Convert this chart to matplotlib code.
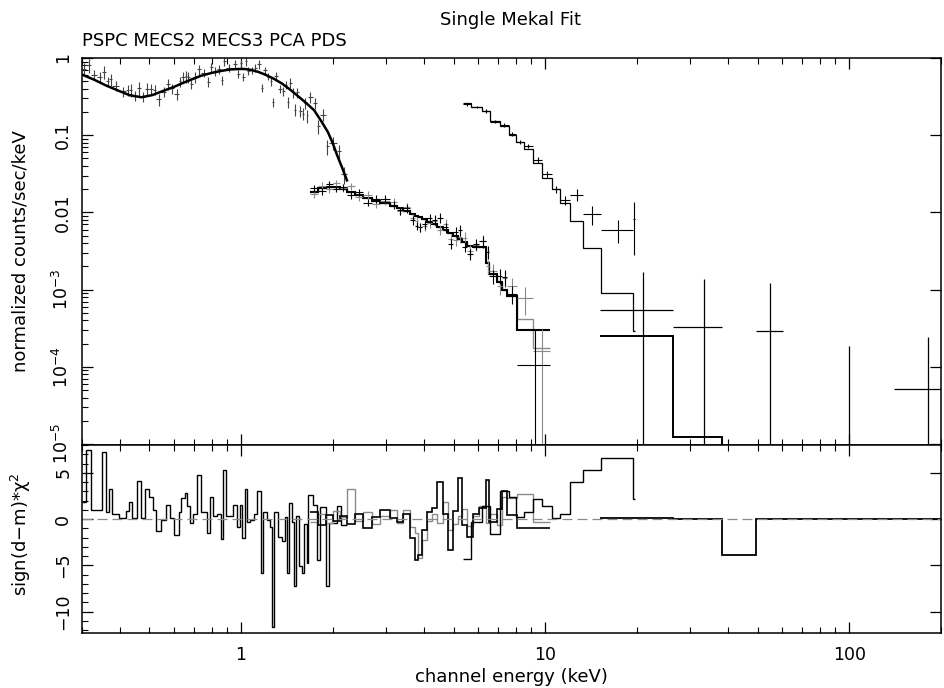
import matplotlib
matplotlib.use('Agg')
import matplotlib.pyplot as plt
from matplotlib.ticker import (FixedLocator, FixedFormatter, LogLocator,
                               MultipleLocator, NullFormatter)
import numpy as np

plt.rcParams['font.family'] = ['DejaVu Sans']
plt.rcParams['mathtext.default'] = 'regular'

# ---------------- PSPC (0.3 - 2.2 keV) ----------------
pspc_edges = [0.300, 0.310, 0.322, 0.337, 0.350, 0.360, 0.369, 0.377, 0.398, 0.420,
              0.429, 0.439, 0.456, 0.470, 0.485, 0.500, 0.515, 0.527, 0.547, 0.568,
              0.586, 0.604, 0.623, 0.637, 0.652, 0.662, 0.677, 0.693, 0.714, 0.736,
              0.770, 0.788, 0.806, 0.831, 0.857, 0.870, 0.890, 0.938, 0.967, 0.990,
              1.005, 1.028, 1.043, 1.068, 1.101, 1.126, 1.160, 1.178, 1.214, 1.243,
              1.261, 1.281, 1.320, 1.361, 1.392, 1.414, 1.435, 1.468, 1.491, 1.514,
              1.549, 1.584, 1.608, 1.645, 1.658, 1.722, 1.776, 1.816, 1.901, 1.945,
              2.067, 2.130, 2.229]
pspc_flux = [0.72, 0.80, 0.61, 0.575, 0.66, 0.50, 0.53, 0.44, 0.37, 0.385,
             0.39, 0.325, 0.405, 0.315, 0.40, 0.40, 0.385, 0.29, 0.365, 0.455,
             0.405, 0.34, 0.50, 0.56, 0.58, 0.565, 0.46, 0.565, 0.71, 0.645,
             0.49, 0.76, 0.67, 0.72, 0.52, 0.92, 0.74, 0.84, 0.62, 0.85,
             0.57, 0.91, 0.68, 0.69, 0.75, 0.83, 0.41, 0.69, 0.575, 0.50,
             0.27, 0.58, 0.40, 0.37, 0.45, 0.27, 0.48, 0.36, 0.215, 0.36,
             0.205, 0.19, 0.26, 0.18, 0.31, 0.26, 0.13, 0.185, 0.072, 0.08,
             0.062, 0.031]
pspc_relerr = [0.18, 0.20, 0.15, 0.16, 0.20, 0.15, 0.18, 0.14, 0.15, 0.17,
               0.19, 0.15, 0.20, 0.15, 0.18, 0.16, 0.15, 0.17, 0.14, 0.16,
               0.15, 0.17, 0.15, 0.16, 0.18, 0.15, 0.14, 0.15, 0.16, 0.13,
               0.15, 0.14, 0.13, 0.14, 0.13, 0.15, 0.12, 0.13, 0.12, 0.14,
               0.12, 0.13, 0.12, 0.11, 0.12, 0.13, 0.12, 0.12, 0.11, 0.12,
               0.14, 0.12, 0.13, 0.14, 0.13, 0.16, 0.14, 0.15, 0.17, 0.15,
               0.17, 0.18, 0.16, 0.19, 0.16, 0.17, 0.20, 0.18, 0.22, 0.20,
               0.22, 0.25]
pspc_resid = [1.9, 7.5, 1.0, 1.0, 7.2, 0.8, 3.2, 0.5, 0.1, 0.9,
              1.9, 0.1, 4.1, 0.1, 3.3, 2.4, 1.0, -1.3, -0.1, 1.5,
              0.1, -1.7, 0.8, 2.3, 2.8, 1.4, -0.4, 0.5, 4.8, 0.8,
              -1.5, 2.4, 0.3, 0.5, -2.2, 5.3, 0.3, 1.5, -0.8, 1.5,
              -2.0, 3.3, -0.3, -0.1, 0.5, 3.0, -5.8, 0.8, -0.1, -0.8,
              -11.7, 0.8, -1.9, -2.4, 0.2, -5.8, 1.7, -0.3, -7.2, 0.3,
              -5.1, -5.8, -0.5, -4.7, 2.6, 1.5, -4.4, 1.3, -7.2, -0.4,
              1.4, -0.6]
pspc_model_e = [0.30, 0.33, 0.36, 0.40, 0.43, 0.47, 0.51, 0.55, 0.60, 0.64,
                0.69, 0.74, 0.80, 0.86, 0.92, 0.98, 1.03, 1.08, 1.14, 1.20,
                1.28, 1.36, 1.45, 1.54, 1.64, 1.74, 1.84, 1.93, 2.00, 2.07,
                2.15, 2.23]
pspc_model_f = [0.61, 0.52, 0.44, 0.37, 0.33, 0.31, 0.33, 0.37, 0.42, 0.47,
                0.53, 0.59, 0.64, 0.68, 0.71, 0.72, 0.72, 0.70, 0.66, 0.61,
                0.54, 0.47, 0.39, 0.32, 0.26, 0.21, 0.15, 0.11, 0.08, 0.055,
                0.038, 0.026]

# ---------------- MECS2 / MECS3 (1.7 - 10 keV) ----------------
mecs3_edges = [1.684, 1.789, 1.901, 2.004, 2.114, 2.229, 2.369, 2.518, 2.696, 2.864,
               3.090, 3.260, 3.411, 3.597, 3.736, 3.823, 3.940, 4.093, 4.252, 4.416,
               4.621, 4.800, 4.985, 5.178, 5.338, 5.545, 5.803, 6.072, 6.404, 6.552,
               6.963, 7.232, 7.512, 8.100, 10.40]
mecs2_edges = [1.684, 1.789, 1.901, 2.004, 2.114, 2.229, 2.369, 2.518, 2.696, 2.864,
               3.090, 3.260, 3.411, 3.597, 3.736, 3.823, 3.940, 4.093, 4.252, 4.416,
               4.621, 4.800, 4.985, 5.178, 5.338, 5.545, 5.803, 6.072, 6.404, 6.552,
               6.963, 7.232, 7.512, 8.100, 9.100, 10.40]
mecs3_model = [0.0185, 0.0205, 0.0214, 0.0213, 0.0198, 0.0181, 0.0166, 0.0152, 0.0142, 0.0133,
               0.0122, 0.0113, 0.0104, 0.0095, 0.0090, 0.0086, 0.0082, 0.0076, 0.0071, 0.0065,
               0.0059, 0.0054, 0.0049, 0.0045, 0.0041, 0.0037, 0.0036, 0.0036, 0.0022, 0.0016,
               0.00125, 0.00100, 0.00082, 0.00030]
mecs2_model = [0.0185, 0.0205, 0.0214, 0.0213, 0.0198, 0.0181, 0.0166, 0.0152, 0.0142, 0.0133,
               0.0122, 0.0113, 0.0104, 0.0095, 0.0090, 0.0086, 0.0082, 0.0076, 0.0071, 0.0065,
               0.0059, 0.0054, 0.0049, 0.0045, 0.0041, 0.0037, 0.0036, 0.0036, 0.0022, 0.0016,
               0.00125, 0.00100, 0.00082, 0.00042, 0.000175]
mecs3_flux = [0.0205, 0.0187, 0.0230, 0.0202, 0.0211, 0.0166, 0.0181, 0.0134, 0.0150, 0.0149,
              0.0126, 0.0106, 0.0113, 0.0079, 0.0067, 0.0065, 0.0071, 0.0084, 0.0080, 0.0085,
              0.0064, 0.0039, 0.0056, 0.0059, 0.0036, 0.0029, 0.0039, 0.0042, 0.0031, 0.00148,
              0.0015, 0.00145, 0.00088, 0.000105]
mecs2_flux = [0.0174, 0.0222, 0.0198, 0.0237, 0.0208, 0.0219, 0.0158, 0.0168, 0.0130, 0.0141,
              0.0137, 0.0104, 0.0117, 0.0085, 0.0077, 0.0064, 0.0067, 0.0072, 0.0078, 0.0060,
              0.0071, 0.0045, 0.0044, 0.0048, 0.0047, 0.0032, 0.0038, 0.0043, 0.0020, 0.00175,
              0.00112, 0.00140, 0.00110, 0.00078, 0.00016]
mecs3_relerr = [0.10, 0.10, 0.10, 0.10, 0.10, 0.10, 0.11, 0.11, 0.11, 0.12,
                0.12, 0.12, 0.12, 0.13, 0.13, 0.13, 0.13, 0.14, 0.14, 0.14,
                0.15, 0.15, 0.15, 0.16, 0.16, 0.17, 0.17, 0.17, 0.19, 0.20,
                0.22, 0.24, 0.26, 1.9]
mecs2_relerr = [0.11, 0.10, 0.11, 0.10, 0.11, 0.10, 0.12, 0.11, 0.12, 0.12,
                0.13, 0.12, 0.13, 0.13, 0.14, 0.13, 0.14, 0.14, 0.15, 0.15,
                0.15, 0.16, 0.16, 0.16, 0.17, 0.18, 0.17, 0.18, 0.20, 0.21,
                0.23, 0.25, 0.27, 0.40, 0.95]
mecs3_resid = [0.8, -0.6, 0.4, -0.2, 0.3, -0.5, 0.6, -1.0, 0.2, 1.0,
               0.1, -0.3, 0.5, -2.0, -4.4, -3.9, -1.2, 0.8, 1.2, 4.0,
               0.6, -3.3, 0.9, 4.4, -0.6, -1.9, 0.5, 1.2, 4.2, -0.3,
               1.1, 3.0, 0.4, -1.0]
mecs2_resid = [-0.3, 0.5, -0.4, 0.9, 0.2, 3.2, -0.2, 0.8, -0.5, 0.3,
               1.0, -0.4, 1.0, -0.8, -1.5, -4.2, -2.3, -0.2, 0.6, -0.4,
               1.8, -1.2, -0.5, 0.3, 1.1, -0.7, 0.3, 1.4, -0.4, 0.5,
               -0.6, 2.4, 2.3, 2.7, -0.3]

# ---------------- PCA (5.4 - 20 keV) ----------------
pca_edges = [5.35, 5.70, 6.20, 6.60, 7.10, 7.60, 8.00, 8.50, 9.10, 9.80,
             10.5, 11.2, 12.1, 13.3, 15.3, 19.4, 19.8]
pca_model = [0.258, 0.233, 0.203, 0.153, 0.132, 0.100, 0.081, 0.067, 0.044, 0.028,
             0.020, 0.0134, 0.0078, 0.0035, 0.0009, 0.00029]
pca_flux = [0.250, 0.232, 0.206, 0.150, 0.136, 0.105, 0.082, 0.072, 0.048, 0.031,
            0.020, 0.0145, 0.017, 0.0095, 0.006, 0.0083]
pca_err = [0.012, 0.010, 0.010, 0.008, 0.007, 0.006, 0.005, 0.004, 0.004, 0.003,
           0.002, 0.002, 0.003, 0.0027, 0.002, 0.0055]
pca_resid = [-4.3, -0.3, 1.4, -1.6, 3.0, 2.4, 0.2, 0.8, 2.2, 1.4,
             0.1, 0.5, 4.05, 5.3, 6.6, 2.2]

# ---------------- PDS (15 - 200 keV) ----------------
pds_edges = [15.2, 26.4, 38.1, 49.4, 60.6, 85.0, 118.0, 140.0, 235.0]
pds_model = [2.5e-4, 1.22e-5, 4e-6, 2e-6, 1e-6, 6e-7, 4e-7, 2e-7]
pds_resid = [0.1, 0.0, -3.9, 0.05, 0.0, 0.02, 0.0, 0.0]
pds_e = [21.0, 33.2, 55.0, 100.0, 182.0]
pds_elo = [15.2, 26.4, 49.4, 85.0, 140.0]
pds_ehi = [26.4, 38.1, 60.6, 118.0, 235.0]
pds_flux = [5.4e-4, 3.3e-4, 2.9e-4, 1e-7, 5.1e-5]
pds_hi = [1.7e-3, 1.39e-3, 1.2e-3, 1.84e-4, 2.4e-4]
pds_lo = [1e-8, 1e-8, 1e-8, 1e-8, 1e-8]

GRAY = '#8a8a8a'
DARK = '#444444'
FS = 13


def binned_errorbar(ax, edges, flux, yerr_lo, yerr_hi, color, lw):
    e = np.asarray(edges)
    lo, hi = e[:-1], e[1:]
    c = (lo + hi) / 2
    ax.errorbar(c, flux, xerr=[c - lo, hi - c], yerr=[yerr_lo, yerr_hi],
                fmt='none', ecolor=color, elinewidth=lw, capsize=0)


def rel_errs(flux, rel):
    f = np.asarray(flux)
    r = np.asarray(rel) * f
    return np.minimum(r, f - 1e-9), r


fig = plt.figure(figsize=(9.45, 6.88), dpi=100)
ax1 = fig.add_axes([0.0868, 0.3532, 0.9087, 0.5625])
ax2 = fig.add_axes([0.0868, 0.0799, 0.9087, 0.2733], sharex=ax1)

# upper panel: data and folded model
lo, hi = rel_errs(pspc_flux, pspc_relerr)
binned_errorbar(ax1, pspc_edges, pspc_flux, lo, hi, DARK, 0.8)
ax1.plot(pspc_model_e, pspc_model_f, color='black', lw=1.8)

lo, hi = rel_errs(mecs2_flux, mecs2_relerr)
binned_errorbar(ax1, mecs2_edges, mecs2_flux, lo, hi, GRAY, 0.8)
lo, hi = rel_errs(mecs3_flux, mecs3_relerr)
binned_errorbar(ax1, mecs3_edges, mecs3_flux, lo, hi, 'black', 0.8)
ax1.stairs(mecs2_model, mecs2_edges, baseline=None, color=GRAY, lw=1.0)
ax1.stairs(mecs3_model, mecs3_edges, baseline=None, color='black', lw=1.5)

pca_lo = np.minimum(np.asarray(pca_err), np.asarray(pca_flux) - 1e-9)
binned_errorbar(ax1, pca_edges, pca_flux, pca_lo, pca_err, 'black', 0.8)
ax1.stairs(pca_model, pca_edges, baseline=None, color='black', lw=0.9)

pe = np.asarray(pds_e)
ax1.errorbar(pds_e, pds_flux,
             xerr=[pe - np.asarray(pds_elo), np.asarray(pds_ehi) - pe],
             yerr=[np.asarray(pds_flux) - np.asarray(pds_lo),
                   np.asarray(pds_hi) - np.asarray(pds_flux)],
             fmt='none', ecolor='black', elinewidth=0.9, capsize=0)
ax1.stairs(pds_model, pds_edges, baseline=None, color='black', lw=1.4)

# lower panel: residuals
ax2.axhline(0, color=GRAY, lw=0.9, ls=(0, (8, 4)))
ax2.stairs(pspc_resid, pspc_edges, baseline=None, color='black', lw=1.0)
ax2.stairs(mecs2_resid, mecs2_edges, baseline=None, color=GRAY, lw=1.0)
ax2.stairs(mecs3_resid, mecs3_edges, baseline=None, color='black', lw=1.2)
ax2.stairs(pca_resid, pca_edges, baseline=None, color='black', lw=1.0)
ax2.stairs(pds_resid, pds_edges, baseline=None, color='black', lw=1.3)

# axes styling (PGPLOT look)
for ax in (ax1, ax2):
    ax.set_xscale('log')
    ax.set_xlim(0.3, 200)
    ax.xaxis.set_major_locator(FixedLocator([1, 10, 100]))
    ax.xaxis.set_minor_locator(LogLocator(base=10, subs=np.arange(2, 10), numticks=20))
    ax.xaxis.set_minor_formatter(NullFormatter())
    ax.tick_params(which='both', direction='in', top=True, right=True,
                   labelsize=12.5)
    ax.tick_params(which='major', length=8, width=0.9)
    ax.tick_params(which='minor', length=4, width=0.8)
    ax.tick_params(axis='y', which='minor', right=False)
    ax.tick_params(axis='y', labelrotation=90, pad=7)
    ax.tick_params(axis='x', pad=9)
    for s in ax.spines.values():
        s.set_linewidth(1.1)

ax1.set_yscale('log')
ax1.set_ylim(9.7e-6, 1.0)
ax1.yaxis.set_major_locator(FixedLocator([1e-5, 1e-4, 1e-3, 1e-2, 1e-1, 1]))
ax1.yaxis.set_major_formatter(FixedFormatter(
    ['$10^{-5}$', '$10^{-4}$', '$10^{-3}$', '0.01', '0.1', '1']))
ax1.yaxis.set_minor_locator(LogLocator(base=10, subs=np.arange(2, 10), numticks=20))
ax1.yaxis.set_minor_formatter(NullFormatter())
ax1.tick_params(labelbottom=False)

ax2.set_ylim(-12.3, 8.0)
ax2.yaxis.set_major_locator(MultipleLocator(5))
ax2.yaxis.set_minor_locator(MultipleLocator(1))
ax2.xaxis.set_major_formatter(FixedFormatter(['1', '10', '100']))

for ax in (ax1, ax2):
    for lab in ax.get_yticklabels():
        lab.set_va('center')

fig.text(511 / 945, 1 - 20 / 688, 'Single Mekal Fit', ha='center', va='center',
         fontsize=FS)
fig.text(82 / 945, 1 - 41 / 688, 'PSPC MECS2 MECS3 PCA PDS', ha='left',
         va='center', fontsize=FS)
fig.text(511 / 945, 1 - 682 / 688, 'channel energy (keV)', ha='center',
         va='baseline', fontsize=FS)
fig.text(21 / 945, 1 - 251 / 688, 'normalized counts/sec/keV', rotation=90,
         ha='center', va='center', fontsize=FS)
fig.text(21 / 945, 1 - 534 / 688, r'sign(d−m)*$\chi^{2}$', rotation=90,
         ha='center', va='center', fontsize=FS)

fig.savefig('out.png', dpi=100)
